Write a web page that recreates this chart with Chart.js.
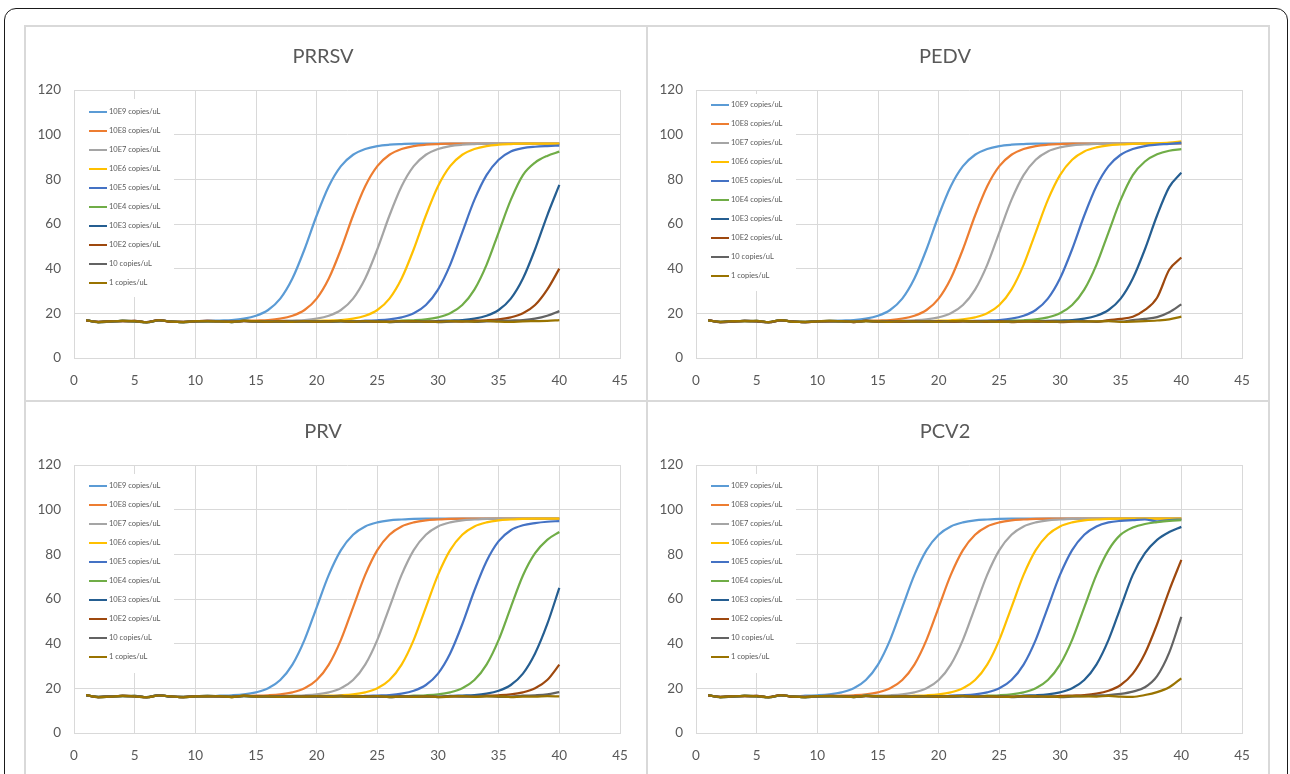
<!DOCTYPE html>
<html>
<head>
<meta charset="utf-8">
<title>qPCR amplification curves</title>
<script src="https://cdn.jsdelivr.net/npm/chart.js@4.4.1/dist/chart.umd.min.js"></script>
<style>
    html, body { margin: 0; padding: 0; background: #fff; overflow: hidden; }
    #frame {
        position: absolute; left: 4px; top: 8px; width: 1284px; height: 820px;
        box-sizing: border-box; border: 1.5px solid #1a1a1a; border-radius: 12px;
    }
    #grid {
        position: absolute; left: 24px; top: 25px; width: 1246px; height: 752px;
        background: #d9d9d9;
    }
    .panel { position: absolute; width: 620px; height: 373px; background: #fff; }
    .panel canvas { display: block; }
</style>
</head>
<body>
<div id="frame"></div>
<div id="grid">
    <div class="panel" style="left:2px;top:2px"><canvas id="chart-prrsv" width="620" height="373"></canvas></div>
    <div class="panel" style="left:624px;top:2px"><canvas id="chart-pedv" width="620" height="373"></canvas></div>
    <div class="panel" style="left:2px;top:377px"><canvas id="chart-prv" width="620" height="373"></canvas></div>
    <div class="panel" style="left:624px;top:377px"><canvas id="chart-pcv2" width="620" height="373"></canvas></div>
</div>
<script>
// Cycle numbers (x) shared by every series
const cycles = [1, 2, 3, 4, 5, 6, 7, 8, 9, 10, 11, 12, 13, 14, 15, 16, 17, 18, 19, 20,
    21, 22, 23, 24, 25, 26, 27, 28, 29, 30, 31, 32, 33, 34, 35, 36, 37, 38, 39, 40];

const xTicks = [0, 5, 10, 15, 20, 25, 30, 35, 40, 45];
const yTicks = [0, 20, 40, 60, 80, 100, 120];

const seriesLabels = ['10E9 copies/uL', '10E8 copies/uL', '10E7 copies/uL', '10E6 copies/uL',
    '10E5 copies/uL', '10E4 copies/uL', '10E3 copies/uL', '10E2 copies/uL', '10 copies/uL', '1 copies/uL'];

const seriesColors = ['#5b9bd5', '#ed7d31', '#a5a5a5', '#ffc000', '#4472c4',
    '#70ad47', '#255e91', '#9e480e', '#636363', '#997300'];

// Fluorescence readings, one row per dilution (10E9 ... 1 copies/uL)
const prrsvSeries = [
    [16.9,16.1,16.4,16.6,16.5,16.0,16.9,16.3,16.1,16.5,16.6,16.8,17.0,17.6,18.9,21.5,26.6,35.6,48.7,63.8,76.9,85.9,91.0,93.6,94.9,95.5,95.8,96.0,96.0,96.0,96.0,96.0,96.0,96.0,96.0,96.0,96.0,96.0,96.0,96.0],
    [16.8,16.2,16.5,16.5,16.6,16.1,17.0,16.2,16.2,16.4,16.6,16.5,16.3,16.6,16.8,17.0,17.6,18.9,21.5,26.6,35.6,48.7,63.8,76.9,85.9,91.0,93.6,94.9,95.5,95.8,96.0,96.0,96.0,96.0,96.0,96.0,96.0,96.0,96.0,96.0],
    [17.0,16.0,16.3,16.6,16.4,16.0,16.8,16.4,16.0,16.4,16.4,16.5,16.1,16.7,16.3,16.4,16.6,16.8,17.0,17.6,18.9,21.5,26.6,35.6,48.7,63.8,76.9,85.9,91.0,93.6,94.9,95.5,95.8,96.0,96.0,96.0,96.0,96.0,96.0,96.0],
    [16.9,16.1,16.4,16.6,16.5,16.0,16.9,16.3,16.1,16.5,16.5,16.4,16.2,16.6,16.5,16.3,16.4,16.2,16.5,16.6,16.8,17.0,17.6,18.9,21.5,26.6,35.6,48.7,63.8,76.9,85.9,91.0,93.6,94.9,95.5,95.8,96.0,96.0,96.0,96.0],
    [16.8,16.2,16.5,16.5,16.6,16.1,17.0,16.2,16.2,16.4,16.6,16.5,16.3,16.5,16.4,16.2,16.5,16.3,16.4,16.2,16.5,16.5,16.3,16.7,16.9,17.3,18.2,20.0,23.7,30.6,41.7,56.3,70.8,81.9,88.8,92.5,94.0,94.6,94.9,95.1],
    [17.0,16.0,16.3,16.6,16.4,16.0,16.8,16.4,16.0,16.4,16.4,16.5,16.1,16.7,16.3,16.4,16.2,16.4,16.3,16.5,16.2,16.4,16.4,16.2,16.5,16.1,16.7,16.9,17.3,18.2,20.0,23.7,30.6,41.7,56.3,70.8,81.9,87.5,90.5,92.4],
    [16.9,16.1,16.4,16.6,16.5,16.0,16.9,16.3,16.1,16.5,16.5,16.4,16.2,16.6,16.5,16.3,16.4,16.2,16.5,16.3,16.4,16.6,16.2,16.5,16.3,16.2,16.5,16.4,16.3,16.6,16.8,17.0,17.6,18.9,21.5,26.6,35.6,48.7,63.8,77.5],
    [16.8,16.2,16.5,16.5,16.6,16.1,17.0,16.2,16.2,16.4,16.6,16.5,16.3,16.5,16.4,16.2,16.5,16.3,16.4,16.2,16.5,16.5,16.3,16.4,16.2,16.3,16.4,16.5,16.2,16.3,16.4,16.3,16.7,16.9,17.3,18.2,20.0,23.7,30.6,40.0],
    [17.0,16.0,16.3,16.6,16.4,16.0,16.8,16.4,16.0,16.4,16.4,16.5,16.1,16.7,16.3,16.4,16.2,16.4,16.3,16.5,16.2,16.4,16.4,16.2,16.5,16.1,16.3,16.2,16.4,16.1,16.3,16.5,16.2,16.4,16.6,16.8,17.0,17.6,18.9,21.0],
    [16.9,16.1,16.4,16.6,16.5,16.0,16.9,16.3,16.1,16.5,16.5,16.4,16.2,16.6,16.5,16.3,16.4,16.2,16.5,16.3,16.4,16.6,16.2,16.5,16.3,16.2,16.5,16.4,16.3,16.2,16.5,16.4,16.3,16.6,16.3,16.2,16.4,16.5,16.6,17.0]
];

const pedvSeries = [
    [16.8,16.2,16.5,16.5,16.6,16.1,17.0,16.2,16.2,16.4,16.6,16.8,17.0,17.6,18.9,21.5,26.6,35.6,48.7,63.8,76.9,85.9,91.0,93.6,94.9,95.5,95.8,96.0,96.0,96.0,96.0,96.0,96.0,96.0,96.0,96.0,96.0,96.0,96.0,96.0],
    [17.0,16.0,16.3,16.6,16.4,16.0,16.8,16.4,16.0,16.4,16.4,16.5,16.1,16.6,16.8,17.0,17.6,18.9,21.5,26.6,35.6,48.7,63.8,76.9,85.9,91.0,93.6,94.9,95.5,95.8,96.0,96.0,96.0,96.0,96.0,96.0,96.0,96.0,96.0,96.0],
    [16.9,16.1,16.4,16.6,16.5,16.0,16.9,16.3,16.1,16.5,16.5,16.4,16.2,16.6,16.5,16.3,16.7,16.9,17.3,18.2,20.0,23.7,30.6,41.7,56.3,70.8,81.9,88.8,92.5,94.3,95.2,95.6,95.9,96.0,96.0,96.0,96.0,96.0,96.0,96.0],
    [16.8,16.2,16.5,16.5,16.6,16.1,17.0,16.2,16.2,16.4,16.6,16.5,16.3,16.5,16.4,16.2,16.5,16.3,16.4,16.7,16.9,17.3,18.2,20.0,23.7,30.6,41.7,56.3,70.8,81.9,88.8,92.5,94.3,95.2,95.6,95.9,96.0,96.2,96.5,97.0],
    [17.0,16.0,16.3,16.6,16.4,16.0,16.8,16.4,16.0,16.4,16.4,16.5,16.1,16.7,16.3,16.4,16.2,16.4,16.3,16.5,16.2,16.4,16.6,16.8,17.0,17.6,18.9,21.5,26.6,35.6,48.7,63.8,76.9,85.9,91.0,93.6,94.9,95.5,95.9,96.4],
    [16.9,16.1,16.4,16.6,16.5,16.0,16.9,16.3,16.1,16.5,16.5,16.4,16.2,16.6,16.5,16.3,16.4,16.2,16.5,16.3,16.4,16.6,16.2,16.5,16.3,16.7,16.9,17.3,18.2,20.0,23.7,30.6,41.7,56.3,70.8,81.9,88.0,91.2,92.8,93.5],
    [16.8,16.2,16.5,16.5,16.6,16.1,17.0,16.2,16.2,16.4,16.6,16.5,16.3,16.5,16.4,16.2,16.5,16.3,16.4,16.2,16.5,16.5,16.3,16.4,16.2,16.3,16.4,16.5,16.6,16.8,17.0,17.6,18.9,21.5,26.6,35.6,48.7,63.8,76.5,83.0],
    [17.0,16.0,16.3,16.6,16.4,16.0,16.8,16.4,16.0,16.4,16.4,16.5,16.1,16.7,16.3,16.4,16.2,16.4,16.3,16.5,16.2,16.4,16.4,16.2,16.5,16.1,16.3,16.2,16.4,16.1,16.3,16.5,16.2,17.0,17.5,18.5,21.5,27.0,39.5,45.0],
    [16.9,16.1,16.4,16.6,16.5,16.0,16.9,16.3,16.1,16.5,16.5,16.4,16.2,16.6,16.5,16.3,16.4,16.2,16.5,16.3,16.4,16.6,16.2,16.5,16.3,16.2,16.5,16.4,16.3,16.2,16.5,16.4,16.3,16.6,16.3,17.0,17.5,18.3,20.5,24.0],
    [16.8,16.2,16.5,16.5,16.6,16.1,17.0,16.2,16.2,16.4,16.6,16.5,16.3,16.5,16.4,16.2,16.5,16.3,16.4,16.2,16.5,16.5,16.3,16.4,16.2,16.3,16.4,16.5,16.2,16.3,16.4,16.3,16.4,16.5,16.2,16.3,16.5,16.8,17.3,18.5]
];

const prvSeries = [
    [17.0,16.0,16.3,16.6,16.4,16.0,16.8,16.4,16.0,16.4,16.4,16.7,16.9,17.3,18.2,20.0,23.7,30.6,41.7,56.3,70.8,81.9,88.8,92.5,94.3,95.2,95.6,95.9,96.0,96.0,96.0,96.0,96.0,96.0,96.0,96.0,96.0,96.0,96.0,96.0],
    [16.9,16.1,16.4,16.6,16.5,16.0,16.9,16.3,16.1,16.5,16.5,16.4,16.2,16.6,16.7,16.9,17.3,18.2,20.0,23.7,30.6,41.7,56.3,70.8,81.9,88.8,92.5,94.3,95.2,95.6,95.9,96.0,96.0,96.0,96.0,96.0,96.0,96.0,96.0,96.0],
    [16.8,16.2,16.5,16.5,16.6,16.1,17.0,16.2,16.2,16.4,16.6,16.5,16.3,16.5,16.4,16.2,16.5,16.7,16.9,17.3,18.2,20.0,23.7,30.6,41.7,56.3,70.8,81.9,88.8,92.5,94.3,95.2,95.6,95.9,96.0,96.0,96.0,96.0,96.0,96.0],
    [17.0,16.0,16.3,16.6,16.4,16.0,16.8,16.4,16.0,16.4,16.4,16.5,16.1,16.7,16.3,16.4,16.2,16.4,16.3,16.5,16.7,16.9,17.3,18.2,20.0,23.7,30.6,41.7,56.3,70.8,81.9,88.8,92.5,94.3,95.2,95.6,95.9,96.0,96.0,96.0],
    [16.9,16.1,16.4,16.6,16.5,16.0,16.9,16.3,16.1,16.5,16.5,16.4,16.2,16.6,16.5,16.3,16.4,16.2,16.5,16.3,16.4,16.6,16.2,16.6,16.8,17.0,17.6,18.9,21.5,26.6,35.6,48.7,63.8,76.9,85.9,90.8,93.0,94.0,94.6,94.9],
    [16.8,16.2,16.5,16.5,16.6,16.1,17.0,16.2,16.2,16.4,16.6,16.5,16.3,16.5,16.4,16.2,16.5,16.3,16.4,16.2,16.5,16.5,16.3,16.4,16.2,16.3,16.4,16.7,16.9,17.3,18.2,20.0,23.7,30.6,41.7,56.3,70.5,80.5,86.5,90.0],
    [17.0,16.0,16.3,16.6,16.4,16.0,16.8,16.4,16.0,16.4,16.4,16.5,16.1,16.7,16.3,16.4,16.2,16.4,16.3,16.5,16.2,16.4,16.4,16.2,16.5,16.1,16.3,16.2,16.4,16.1,16.6,16.8,17.0,17.6,18.9,21.5,26.6,35.6,48.7,65.0],
    [16.9,16.1,16.4,16.6,16.5,16.0,16.9,16.3,16.1,16.5,16.5,16.4,16.2,16.6,16.5,16.3,16.4,16.2,16.5,16.3,16.4,16.6,16.2,16.5,16.3,16.2,16.5,16.4,16.3,16.2,16.5,16.4,16.3,16.7,16.9,17.3,18.2,20.0,23.7,30.6],
    [16.8,16.2,16.5,16.5,16.6,16.1,17.0,16.2,16.2,16.4,16.6,16.5,16.3,16.5,16.4,16.2,16.5,16.3,16.4,16.2,16.5,16.5,16.3,16.4,16.2,16.3,16.4,16.5,16.2,16.3,16.4,16.3,16.4,16.5,16.2,16.3,16.7,16.9,17.3,18.3],
    [17.0,16.0,16.3,16.6,16.4,16.0,16.8,16.4,16.0,16.4,16.4,16.5,16.1,16.7,16.3,16.4,16.2,16.4,16.3,16.5,16.2,16.4,16.4,16.2,16.5,16.1,16.3,16.2,16.4,16.1,16.3,16.5,16.2,16.4,16.4,16.1,16.3,16.3,16.5,16.4]
];

const pcv2Series = [
    [16.9,16.1,16.4,16.6,16.5,16.0,16.9,16.3,16.7,16.9,17.3,18.2,20.0,23.7,30.6,41.7,56.3,70.8,81.9,88.8,92.5,94.3,95.2,95.6,95.9,96.0,96.0,96.0,96.0,96.0,96.0,96.0,96.0,96.0,96.0,96.0,96.0,96.0,96.0,96.0],
    [16.8,16.2,16.5,16.5,16.6,16.1,17.0,16.2,16.2,16.4,16.6,16.7,16.9,17.3,18.2,20.0,23.7,30.6,41.7,56.3,70.8,81.9,88.8,92.5,94.3,95.2,95.6,95.9,96.0,96.0,96.0,96.0,96.0,96.0,96.0,96.0,96.0,96.0,96.0,96.0],
    [17.0,16.0,16.3,16.6,16.4,16.0,16.8,16.4,16.0,16.4,16.4,16.5,16.1,16.7,16.7,16.9,17.3,18.2,20.0,23.7,30.6,41.7,56.3,70.8,81.9,88.8,92.5,94.3,95.2,95.6,95.9,96.0,96.0,96.0,96.0,96.0,96.0,96.0,96.0,96.0],
    [16.9,16.1,16.4,16.6,16.5,16.0,16.9,16.3,16.1,16.5,16.5,16.4,16.2,16.6,16.5,16.3,16.4,16.7,16.9,17.3,18.2,20.0,23.7,30.6,41.7,56.3,70.8,81.9,88.8,92.5,94.3,95.2,95.6,95.9,96.0,96.0,96.0,96.0,96.0,96.0],
    [16.8,16.2,16.5,16.5,16.6,16.1,17.0,16.2,16.2,16.4,16.6,16.5,16.3,16.5,16.4,16.2,16.5,16.3,16.4,16.2,16.7,16.9,17.3,18.2,20.0,23.7,30.6,41.7,56.3,70.8,81.9,88.8,92.5,94.3,95.0,95.3,95.6,94.8,95.3,95.6],
    [17.0,16.0,16.3,16.6,16.4,16.0,16.8,16.4,16.0,16.4,16.4,16.5,16.1,16.7,16.3,16.4,16.2,16.4,16.3,16.5,16.2,16.4,16.4,16.7,16.9,17.3,18.2,20.0,23.7,30.6,41.7,56.3,70.8,81.9,88.8,92.0,93.6,94.4,95.0,95.3],
    [16.9,16.1,16.4,16.6,16.5,16.0,16.9,16.3,16.1,16.5,16.5,16.4,16.2,16.6,16.5,16.3,16.4,16.2,16.5,16.3,16.4,16.6,16.2,16.5,16.3,16.2,16.7,16.9,17.3,18.2,20.0,23.7,30.6,41.7,56.3,70.8,80.5,86.5,90.0,92.3],
    [16.8,16.2,16.5,16.5,16.6,16.1,17.0,16.2,16.2,16.4,16.6,16.5,16.3,16.5,16.4,16.2,16.5,16.3,16.4,16.2,16.5,16.5,16.3,16.4,16.2,16.3,16.4,16.5,16.2,16.6,16.8,17.0,17.6,18.9,21.5,26.6,35.6,48.7,63.8,77.5],
    [17.0,16.0,16.3,16.6,16.4,16.0,16.8,16.4,16.0,16.4,16.4,16.5,16.1,16.7,16.3,16.4,16.2,16.4,16.3,16.5,16.2,16.4,16.4,16.2,16.5,16.1,16.3,16.2,16.4,16.1,16.3,16.5,16.8,17.0,17.5,18.5,20.5,25.5,36.0,52.0],
    [16.9,16.1,16.4,16.6,16.5,16.0,16.9,16.3,16.1,16.5,16.5,16.4,16.2,16.6,16.5,16.3,16.4,16.2,16.5,16.3,16.4,16.6,16.2,16.5,16.3,16.2,16.5,16.4,16.3,16.2,16.5,16.4,16.3,16.6,16.3,16.2,17.0,18.3,20.5,24.5]
];

const TEXT_COLOR = '#595959';
const GRID_COLOR = '#d9d9d9';
const FONT_FAMILY = 'Lato, "Open Sans", sans-serif';

/**
 * Legend drawn inside the plot area (top-left), over a white box like Excel does
 */
const insideLegend = {
    id: 'insideLegend',
    beforeDatasetsDraw(chart, args, opts) {
        const { ctx, chartArea } = chart;
        const left = chartArea.left;
        const top = chartArea.top;

        ctx.save();
        // White box hides the gridlines behind the legend
        ctx.fillStyle = '#ffffff';
        ctx.fillRect(left + 1, top + opts.boxTop, 99, opts.boxBottom - opts.boxTop);

        ctx.font = '7.5px ' + FONT_FAMILY;
        ctx.textBaseline = 'middle';
        ctx.textAlign = 'left';
        chart.data.datasets.forEach((ds, i) => {
            const y = top + opts.firstRow + i * opts.rowGap;
            ctx.strokeStyle = ds.borderColor;
            ctx.lineWidth = 2;
            ctx.beginPath();
            ctx.moveTo(left + 15, y);
            ctx.lineTo(left + 33, y);
            ctx.stroke();
            ctx.fillStyle = TEXT_COLOR;
            ctx.fillText(ds.label, left + 35, y);
        });
        ctx.restore();
    }
};

/**
 * Build one amplification chart
 */
function makeChart(canvasId, title, series, legendOpts) {
    const datasets = series.map((values, i) => ({
        label: seriesLabels[i],
        data: cycles.map((c, j) => ({ x: c, y: values[j] })),
        borderColor: seriesColors[i],
        backgroundColor: seriesColors[i],
        borderWidth: 2.2,
        pointRadius: 0,
        cubicInterpolationMode: 'monotone',
        fill: false,
        // later dilutions drawn on top, as in the original
        order: series.length - i
    }));

    return new Chart(document.getElementById(canvasId), {
        type: 'line',
        data: { datasets: datasets },
        options: {
            responsive: false,
            animation: false,
            layout: { padding: { left: 0, right: 26, top: 0, bottom: 0 } },
            plugins: {
                legend: { display: false },
                tooltip: { enabled: false },
                title: {
                    display: true,
                    text: title,
                    color: TEXT_COLOR,
                    font: { family: FONT_FAMILY, size: 20, weight: 'normal', lineHeight: 1.2 },
                    padding: { top: 18, bottom: 21 }
                },
                insideLegend: legendOpts
            },
            scales: {
                x: {
                    type: 'linear',
                    min: 0,
                    max: 45,
                    afterBuildTicks: (scale) => { scale.ticks = xTicks.map(v => ({ value: v })); },
                    afterFit: (scale) => { scale.height = 42; },
                    grid: { color: GRID_COLOR, drawTicks: false },
                    border: { color: GRID_COLOR },
                    ticks: {
                        color: TEXT_COLOR,
                        font: { family: FONT_FAMILY, size: 13.5 },
                        padding: 15,
                        maxRotation: 0
                    }
                },
                y: {
                    type: 'linear',
                    min: 0,
                    max: 120,
                    afterBuildTicks: (scale) => { scale.ticks = yTicks.map(v => ({ value: v })); },
                    afterFit: (scale) => { scale.width = 48; },
                    grid: { color: GRID_COLOR, drawTicks: false },
                    border: { color: GRID_COLOR },
                    ticks: {
                        color: TEXT_COLOR,
                        font: { family: FONT_FAMILY, size: 13.5 },
                        padding: 13
                    }
                }
            }
        },
        plugins: [insideLegend]
    });
}

makeChart('chart-prrsv', 'PRRSV', prrsvSeries, { boxTop: 9, boxBottom: 207, firstRow: 22, rowGap: 19 });
makeChart('chart-pedv', 'PEDV', pedvSeries, { boxTop: 4, boxBottom: 201, firstRow: 15, rowGap: 19 });
makeChart('chart-prv', 'PRV', prvSeries, { boxTop: 9, boxBottom: 208, firstRow: 21, rowGap: 19 });
makeChart('chart-pcv2', 'PCV2', pcv2Series, { boxTop: 9, boxBottom: 208, firstRow: 21, rowGap: 19 });
</script>
</body>
</html>
